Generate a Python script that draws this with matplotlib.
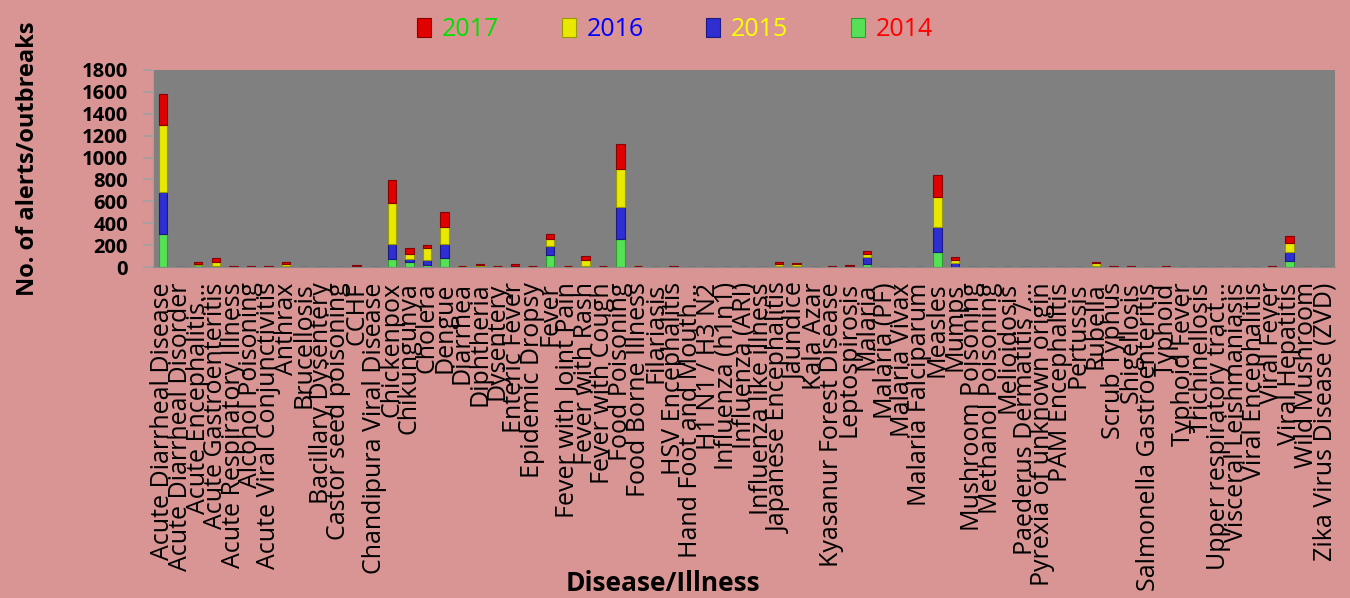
import numpy as np
import matplotlib
matplotlib.use('Agg')
import matplotlib.pyplot as plt

plt.rcParams['font.family'] = ['Open Sans', 'DejaVu Sans']

# Данные
diseases = [
    'Acute Diarrheal Disease', 'Acute Diarrheal Disorder', 'Acute Encephalitis…',
    'Acute Gastroenteritis', 'Acute Respiratory Illness', 'Alcohol Poisoning',
    'Acute Viral Conjunctivitis', 'Anthrax', 'Brucellosis', 'Bacillary Dysentery',
    'Castor seed poisoning', 'CCHF', 'Chandipura Viral Disease', 'Chickenpox',
    'Chikungunya', 'Cholera', 'Dengue', 'Diarrhea', 'Diphtheria', 'Dysentery',
    'Enteric Fever', 'Epidemic Dropsy', 'Fever', 'Fever with Joint Pain',
    'Fever with Rash', 'Fever with Cough', 'Food Poisoning', 'Food Borne Illness',
    'Filariasis', 'HSV Encephalitis', 'Hand Foot and Mouth…', 'H1 N1 / H3 N2',
    'Influenza (h1n1)', 'Influenza (ARI)', 'Influenza like illness',
    'Japanese Encephalitis', 'Jaundice', 'Kala Azar', 'Kyasanur Forest Disease',
    'Leptospirosis', 'Malaria', 'Malaria (PF)', 'Malaria Vivax', 'Malaria Falciparum',
    'Measles', 'Mumps', 'Mushroom Poisoning', 'Methanol Poisoning', 'Melioidosis',
    'Paederus Dermatitis /…', 'Pyrexia of unknown origin', 'PAM Encephalitis',
    'Pertussis', 'Rubella', 'Scrub Typhus', 'Shigellosis', 'Salmonella Gastroenteritis',
    'Typhoid', 'Typhoid Fever', 'Trichinellosis', 'Upper respiratory tract…',
    'Visceral Leishmaniasis', 'Viral Encephalitis', 'Viral Fever', 'Viral Hepatitis',
    'Wild Mushroom', 'Zika Virus Disease (ZVD)',
]

y2014 = [300, 1, 20, 3, 1, 1, 1, 2, 1, 1, 0, 2, 1, 75, 45, 20, 82, 2, 5, 2,
         3, 1, 112, 2, 5, 1, 258, 2, 1, 1, 1, 1, 1, 1, 1, 2, 2, 1, 1, 2,
         24, 1, 1, 1, 137, 3, 1, 1, 1, 1, 1, 1, 1, 2, 1, 1, 1, 1, 1, 1,
         1, 1, 1, 1, 55, 1, 1]
y2015 = [385, 0, 2, 5, 2, 1, 1, 3, 0, 1, 1, 3, 1, 135, 30, 46, 130, 2, 5, 2,
         5, 2, 76, 2, 8, 3, 286, 1, 1, 1, 1, 1, 1, 1, 1, 10, 5, 1, 1, 3,
         67, 1, 1, 1, 233, 30, 1, 1, 1, 1, 1, 1, 1, 10, 1, 1, 1, 1, 1, 1,
         1, 1, 1, 1, 78, 1, 1]
y2016 = [610, 1, 5, 40, 1, 2, 1, 22, 1, 1, 1, 5, 1, 375, 43, 107, 158, 3, 10, 2,
         5, 2, 70, 2, 55, 1, 353, 2, 1, 2, 1, 1, 1, 1, 1, 18, 18, 1, 2, 5,
         30, 1, 1, 1, 274, 32, 1, 1, 1, 1, 1, 1, 1, 24, 2, 1, 1, 1, 1, 1,
         1, 1, 1, 1, 86, 1, 1]
y2017 = [285, 0, 17, 30, 1, 1, 2, 20, 1, 1, 0, 5, 1, 213, 60, 30, 132, 3, 10, 2,
         10, 1, 43, 1, 33, 1, 225, 3, 1, 2, 1, 1, 1, 1, 1, 13, 9, 1, 2, 8,
         21, 1, 1, 1, 198, 30, 1, 1, 1, 1, 1, 1, 1, 12, 8, 5, 1, 2, 1, 1,
         1, 1, 1, 5, 60, 1, 1]

years = ['2014', '2015', '2016', '2017']
bar_colors = ['#55E055', '#2E2ED2', '#E8E800', '#E00000']
edge_colors = ['#2E9E2E', '#1A1A80', '#9A9A00', '#8A0000']
text_colors = ['#FF0000', '#FFFF00', '#0000FF', '#00E000']

fig = plt.figure(figsize=(13.5, 5.98), dpi=100, facecolor='#D99594')
ax = fig.add_axes([0.1133, 0.5535, 0.8757, 0.3295])
ax.set_facecolor('#808080')

x = np.arange(len(diseases))
bottom = np.zeros(len(diseases))
handles = []
for vals, c, ec in zip([y2014, y2015, y2016, y2017], bar_colors, edge_colors):
    b = ax.bar(x, vals, bottom=bottom, width=0.47, color=c, edgecolor=ec, linewidth=0.8)
    handles.append(b)
    bottom += np.array(vals)

ax.set_xlim(-0.57, 66.6)
ax.set_ylim(0, 1800)
ax.set_yticks(range(0, 1801, 200))
ax.set_yticklabels([str(v) for v in range(0, 1801, 200)], fontsize=14.5, fontweight='bold')
ax.tick_params(axis='y', length=7, color='#A0A0A0', width=1.2, pad=11)
ax.set_xticks(x)
ax.set_xticklabels(diseases, rotation=90, fontsize=18, va='top', ha='center')
ax.tick_params(axis='x', length=0, pad=11)
for s in ['top', 'right']:
    ax.spines[s].set_visible(False)
ax.spines['left'].set_color('#A0A0A0')
ax.spines['bottom'].set_color('#8A8A8A')

# Легенда (в обратном порядке)
leg = fig.legend([handles[3], handles[2], handles[1], handles[0]],
                 ['2017', '2016', '2015', '2014'],
                 loc='center', bbox_to_anchor=(0.5, 0.95), ncol=4, frameon=False,
                 fontsize=18, handlelength=0.56, handleheight=0.8,
                 handletextpad=0.44, columnspacing=2.5)
for t, c in zip(leg.get_texts(), text_colors[::-1]):
    t.set_color(c)

fig.text(0.0207, 0.735, 'No. of alerts/outbreaks', rotation=90, ha='center', va='center',
         fontsize=17, fontweight='bold')
fig.text(0.491, 0.025, 'Disease/Illness', ha='center', va='center',
         fontsize=19, fontweight='bold')

plt.savefig('out.png', dpi=100, facecolor=fig.get_facecolor())
plt.close()
